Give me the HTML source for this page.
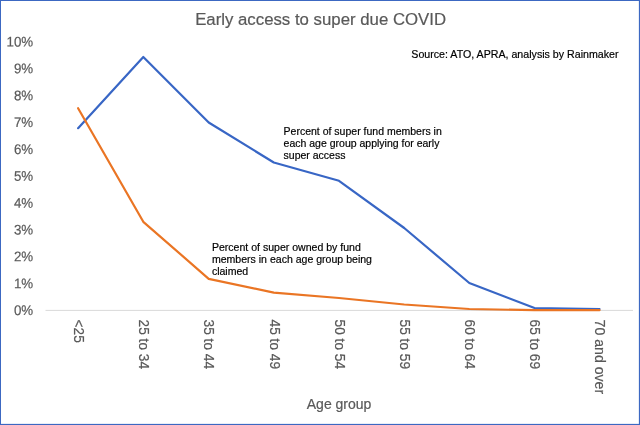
<!DOCTYPE html>
<html>
<head>
<meta charset="utf-8">
<title>Early access to super due COVID</title>
<style>
html,body{margin:0;padding:0;background:#fff;}
body{width:640px;height:425px;overflow:hidden;position:relative;font-family:"Liberation Sans",Arial,sans-serif;}
svg{position:absolute;left:0;top:0;display:block;}
text{font-family:"Liberation Sans",Arial,sans-serif;}
.ax{fill:#595959;font-size:13.33px;stroke:#595959;stroke-width:0.2px;}
.ttl{stroke:#595959;stroke-width:0.2px;}
.ann{fill:#000;font-size:10.5px;stroke:#000;stroke-width:0.18px;}
</style>
</head>
<body>
<svg width="640" height="425" viewBox="0 0 640 425">
  <rect x="0" y="0" width="640" height="425" fill="#ffffff"/>
  <!-- frame -->
  <rect x="0" y="0" width="640" height="1" fill="#3c68c2"/>
  <rect x="0" y="0" width="1" height="425" fill="#3c68c2"/>
  <rect x="638.88" y="0" width="1.12" height="425" fill="#3c68c2"/>
  <rect x="0" y="423.88" width="640" height="1.12" fill="#3c68c2"/>

  <!-- title -->
  <text x="320.6" y="24.6" text-anchor="middle" font-size="16.8" fill="#595959" class="ttl">Early access to super due COVID</text>

  <!-- source -->
  <text x="411.3" y="58.4" class="ann" style="font-size:10.65px">Source: ATO, APRA, analysis by Rainmaker</text>

  <!-- y axis labels -->
  <g class="ax" text-anchor="end">
    <text font-size="14" transform="translate(33.2,46.50) rotate(0.03) scale(0.952,1)">10%</text>
    <text font-size="14" transform="translate(33.2,73.36) rotate(0.03) scale(0.952,1)">9%</text>
    <text font-size="14" transform="translate(33.2,100.22) rotate(0.03) scale(0.952,1)">8%</text>
    <text font-size="14" transform="translate(33.2,127.08) rotate(0.03) scale(0.952,1)">7%</text>
    <text font-size="14" transform="translate(33.2,153.94) rotate(0.03) scale(0.952,1)">6%</text>
    <text font-size="14" transform="translate(33.2,180.80) rotate(0.03) scale(0.952,1)">5%</text>
    <text font-size="14" transform="translate(33.2,207.66) rotate(0.03) scale(0.952,1)">4%</text>
    <text font-size="14" transform="translate(33.2,234.52) rotate(0.03) scale(0.952,1)">3%</text>
    <text font-size="14" transform="translate(33.2,261.38) rotate(0.03) scale(0.952,1)">2%</text>
    <text font-size="14" transform="translate(33.2,288.24) rotate(0.03) scale(0.952,1)">1%</text>
    <text font-size="14" transform="translate(33.2,315.10) rotate(0.03) scale(0.952,1)">0%</text>
  </g>

  <!-- axis line -->
  <line x1="45.5" y1="310.4" x2="633" y2="310.4" stroke="#d9d9d9" stroke-width="1"/>

  <!-- series -->
  <polyline fill="none" stroke="#3866c5" stroke-width="2.2" stroke-linejoin="round" stroke-linecap="round"
    points="78.1,128.2 143.3,57 208.7,122.5 273.8,162.5 339,180.8 404.2,228 469.3,283 534.5,308 599.5,309"/>
  <polyline fill="none" stroke="#ea7524" stroke-width="2.2" stroke-linejoin="round" stroke-linecap="round"
    points="78.1,108.2 143.3,221.8 208.7,278.8 273.8,292.7 339,298 404.2,304.5 469.3,309 534.5,310.2 599.5,310.2"/>

  <!-- annotations -->
  <g class="ann">
    <text x="283.6" y="135.3">Percent of super fund members in</text>
    <text x="283.6" y="147.3">each age group applying for early</text>
    <text x="283.6" y="159.3">super access</text>
    <text font-size="10.55" x="211.9" y="251.3">Percent of super owned by fund</text>
    <text font-size="10.55" x="211.9" y="263.2">members in each age group being</text>
    <text font-size="10.55" x="211.9" y="275.1">claimed</text>
  </g>

  <!-- x axis labels (rotated) -->
  <g class="ax">
    <text font-size="14" transform="translate(74.0,319.6) rotate(90) scale(0.977,1)">&lt;25</text>
    <text font-size="14" transform="translate(139.2,319.6) rotate(90) scale(0.977,1)">25 to 34</text>
    <text font-size="14" transform="translate(204.4,319.6) rotate(90) scale(0.977,1)">35 to 44</text>
    <text font-size="14" transform="translate(269.6,319.6) rotate(90) scale(0.977,1)">45 to 49</text>
    <text font-size="14" transform="translate(334.8,319.6) rotate(90) scale(0.977,1)">50 to 54</text>
    <text font-size="14" transform="translate(400.0,319.6) rotate(90) scale(0.977,1)">55 to 59</text>
    <text font-size="14" transform="translate(465.2,319.6) rotate(90) scale(0.977,1)">60 to 64</text>
    <text font-size="14" transform="translate(530.4,319.6) rotate(90) scale(0.977,1)">65 to 69</text>
    <text font-size="14" transform="translate(594.6,319.6) rotate(90) scale(1.008,1)">70 and over</text>
  </g>

  <!-- x axis title -->
  <text x="339.1" y="408.6" text-anchor="middle" font-size="14" fill="#595959" class="ttl">Age group</text>
</svg>
</body>
</html>
